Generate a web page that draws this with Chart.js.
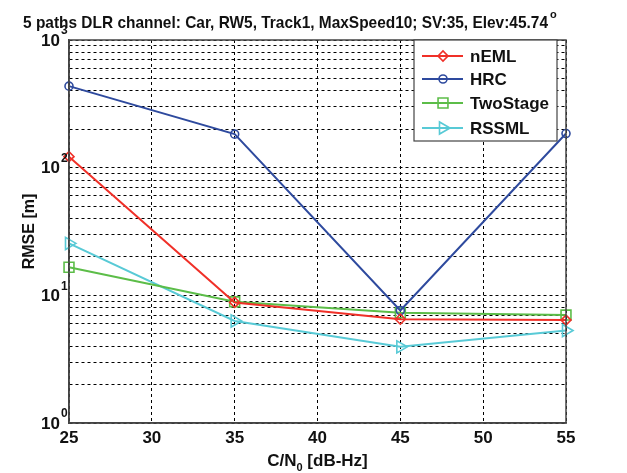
<!DOCTYPE html>
<html>
<head>
<meta charset="utf-8">
<script src="https://cdn.jsdelivr.net/npm/chart.js@4.4.0/dist/chart.umd.min.js"></script>
<style>
  body { margin: 0; background: #fff; }
  #wrap { width: 627px; height: 473px; }
</style>
</head>
<body>
<div id="wrap"><canvas id="rmse"></canvas></div>
<script>
// data
const cn0 = [25, 35, 45, 55];
const neml = [122, 8.8, 6.5, 6.4];
const hrc = [435, 183, 7.6, 185];
const twoStage = [16.6, 8.9, 7.3, 7.0];
const rssml = [25.5, 6.3, 3.95, 5.3];

const xTicks = [25, 30, 35, 40, 45, 50, 55];
const yGrid = [1, 2, 3, 4, 5, 6, 7, 8, 9,
  10, 20, 30, 40, 50, 60, 70, 80, 90,
  100, 200, 300, 400, 500, 600, 700, 800, 900, 1000];
const yDecades = [1, 10, 100, 1000];
const yExponents = ['0', '1', '2', '3'];

const FONT = 'Arial, "Liberation Sans", sans-serif';

function pts(arr) {
  return arr.map((v, i) => ({ x: cn0[i], y: v }));
}

function series(label, values, color, style, radius, rotation) {
  return {
    label: label,
    data: pts(values),
    borderColor: color,
    borderWidth: 2,
    pointStyle: style,
    pointRadius: radius,
    pointRotation: rotation || 0,
    pointBorderColor: color,
    pointBorderWidth: 1.6,
    pointBackgroundColor: 'rgba(0,0,0,0)',
    tension: 0,
    clip: false
  };
}

const data = {
  datasets: [
    series('nEML', neml, 'rgb(240,48,40)', 'rectRot', 5),
    series('HRC', hrc, 'rgb(46,74,158)', 'circle', 4),
    series('TwoStage', twoStage, 'rgb(92,189,72)', 'rect', 7),
    series('RSSML', rssml, 'rgb(88,202,214)', 'triangle', 7, 90)
  ]
};

// title, axis labels, frame and legend drawn the matlab way
const decor = {
  id: 'decor',
  afterDraw(chart) {
    const ctx = chart.ctx;
    const a = chart.chartArea;
    const ys = chart.scales.y;
    ctx.save();

    // box
    ctx.strokeStyle = '#444';
    ctx.lineWidth = 1.5;
    ctx.strokeRect(a.left, a.top, a.right - a.left, a.bottom - a.top);

    // y decade labels 10^n
    ctx.fillStyle = '#111';
    yDecades.forEach((v, i) => {
      const y = ys.getPixelForValue(v);
      ctx.font = 'bold 17px ' + FONT;
      ctx.textAlign = 'right';
      ctx.textBaseline = 'middle';
      ctx.fillText('10', a.left - 9, y + 1);
      ctx.font = 'bold 12px ' + FONT;
      ctx.textAlign = 'left';
      ctx.fillText(yExponents[i], a.left - 8, y - 9);
    });

    // y title
    ctx.save();
    ctx.translate(30, (a.top + a.bottom) / 2);
    ctx.rotate(-Math.PI / 2);
    ctx.font = 'bold 16px ' + FONT;
    ctx.textAlign = 'center';
    ctx.textBaseline = 'middle';
    ctx.fillText('RMSE [m]', 0, 0);
    ctx.restore();

    // x title with subscript
    const cx = (a.left + a.right) / 2;
    const big = 'bold 17px ' + FONT, small = 'bold 11px ' + FONT;
    ctx.font = big;
    const w1 = ctx.measureText('C/N').width;
    const w3 = ctx.measureText(' [dB-Hz]').width;
    ctx.font = small;
    const w2 = ctx.measureText('0').width;
    let x0 = cx - (w1 + w2 + w3) / 2;
    ctx.textAlign = 'left';
    ctx.textBaseline = 'alphabetic';
    ctx.font = big;
    ctx.fillText('C/N', x0, 466);
    ctx.font = small;
    ctx.fillText('0', x0 + w1, 471);
    ctx.font = big;
    ctx.fillText(' [dB-Hz]', x0 + w1 + w2, 466);

    // title with superscript o, squeezed like the matlab export
    const t = '5 paths DLR channel: Car, RW5, Track1, MaxSpeed10; SV:35, Elev:45.74';
    ctx.font = 'bold 17px ' + FONT;
    const tw = ctx.measureText(t).width;
    const sq = 525 / tw;
    ctx.save();
    ctx.translate(23, 28);
    ctx.scale(sq, 1);
    ctx.fillText(t, 0, 0);
    ctx.restore();
    ctx.font = 'bold 11px ' + FONT;
    ctx.fillText('o', 23 + 525 + 2, 18);

    // legend
    const lx = 414, ly = 40, lw = 143, lh = 101;
    ctx.fillStyle = '#fff';
    ctx.fillRect(lx, ly, lw, lh);
    ctx.strokeStyle = '#444';
    ctx.lineWidth = 1.2;
    ctx.strokeRect(lx, ly, lw, lh);
    const rows = [56, 79, 103, 128];
    chart.data.datasets.forEach((ds, i) => {
      const y = rows[i];
      ctx.strokeStyle = ds.borderColor;
      ctx.lineWidth = 2;
      ctx.beginPath();
      ctx.moveTo(422, y);
      ctx.lineTo(463, y);
      ctx.stroke();
      ctx.fillStyle = 'rgba(0,0,0,0)';
      ctx.lineWidth = ds.pointBorderWidth;
      Chart.helpers.drawPoint(ctx, {
        pointStyle: ds.pointStyle,
        rotation: ds.pointRotation,
        radius: ds.pointRadius,
        borderWidth: ds.pointBorderWidth
      }, 443, y);
      ctx.fillStyle = '#111';
      ctx.font = 'bold 17px ' + FONT;
      ctx.textAlign = 'left';
      ctx.textBaseline = 'middle';
      ctx.fillText(ds.label, 470, y + 1);
    });

    ctx.restore();
  }
};

const config = {
  type: 'line',
  data: data,
  options: {
    responsive: true,
    maintainAspectRatio: false,
    animation: false,
    layout: { padding: { top: 40, right: 61, left: 0, bottom: 0 } },
    plugins: {
      legend: { display: false },
      title: { display: false },
      tooltip: { enabled: false }
    },
    scales: {
      x: {
        type: 'linear',
        min: 25,
        max: 55,
        afterBuildTicks: (scale) => { scale.ticks = xTicks.map(v => ({ value: v })); },
        afterFit: (scale) => { scale.height = 50; },
        ticks: {
          color: '#111',
          font: { family: FONT, size: 17, weight: 'bold' },
          padding: 5,
          maxRotation: 0
        },
        grid: { color: '#000', lineWidth: 1, drawTicks: false },
        border: { display: true, color: '#444', width: 1.5, dash: [3, 3] }
      },
      y: {
        type: 'logarithmic',
        min: 1,
        max: 1000,
        afterBuildTicks: (scale) => { scale.ticks = yGrid.map(v => ({ value: v })); },
        afterFit: (scale) => { scale.width = 69; },
        ticks: { display: false },
        grid: { color: '#000', lineWidth: 1, drawTicks: false },
        border: { display: true, color: '#444', width: 1.5, dash: [3, 3] }
      }
    }
  },
  plugins: [decor]
};

const rmseChart = new Chart(document.getElementById('rmse'), config);
</script>
</body>
</html>
